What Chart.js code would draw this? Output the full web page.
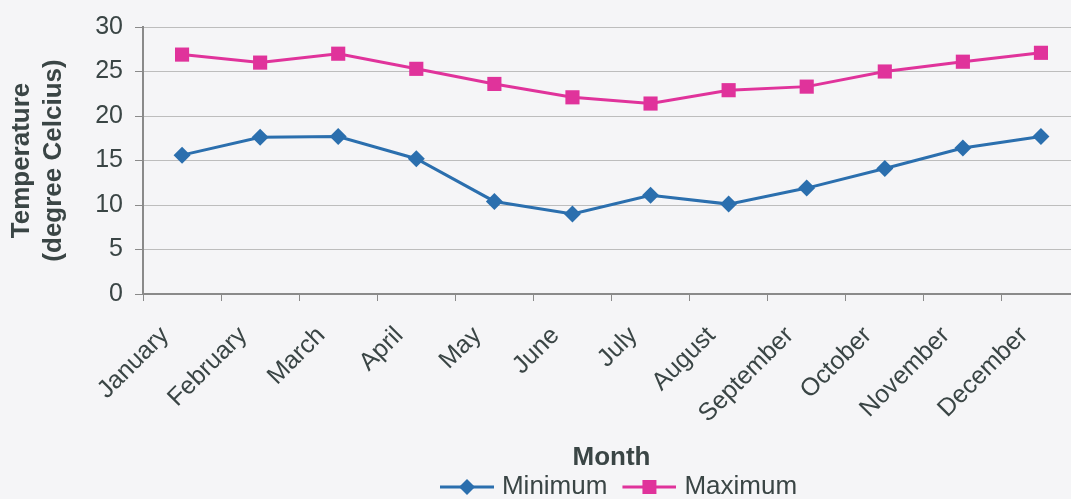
<!DOCTYPE html>
<html>
<head>
<meta charset="utf-8">
<script src="https://cdn.jsdelivr.net/npm/chart.js@4"></script>
<style>
  html, body { margin: 0; padding: 0; background: #f5f5f7; overflow: hidden; }
  #wrap { position: relative; width: 1090px; height: 499px; }
</style>
</head>
<body>
<div id="wrap"><canvas id="c"></canvas></div>
<script>
const months = ['January','February','March','April','May','June','July','August','September','October','November','December'];
const minimumTemps = [15.6, 17.6, 17.7, 15.2, 10.4, 9.0, 11.1, 10.1, 11.9, 14.1, 16.4, 17.7];
const maximumTemps = [26.9, 26.0, 27.0, 25.3, 23.6, 22.1, 21.4, 22.9, 23.3, 25.0, 26.1, 27.1];
const yMin = 0, yMax = 30, yStep = 5;

const BLUE = '#2b6fae';
const PINK = '#e0339b';
const TEXT = '#3a4545';
const FONT = "'Liberation Sans', Arial, sans-serif";

function legendSymbol(color, shape) {
  const W = 73, H = 24, off = 19, len = 54;
  const cv = document.createElement('canvas');
  cv.width = W; cv.height = H;
  const g = cv.getContext('2d');
  const cy = H / 2, cx = off + len / 2;
  g.strokeStyle = color; g.lineWidth = 3;
  g.beginPath(); g.moveTo(off, cy); g.lineTo(off + len, cy); g.stroke();
  g.fillStyle = color;
  g.beginPath();
  if (shape === 'diamond') {
    const r = 8;
    g.moveTo(cx, cy - r); g.lineTo(cx + r, cy); g.lineTo(cx, cy + r); g.lineTo(cx - r, cy); g.closePath();
  } else {
    const s = 7;
    g.rect(cx - s, cy - s, 2 * s, 2 * s);
  }
  g.fill();
  return cv;
}
const symbols = [legendSymbol(BLUE, 'diamond'), legendSymbol(PINK, 'square')];

new Chart(document.getElementById('c'), {
  type: 'line',
  data: {
    labels: months,
    datasets: [
      { label: 'Minimum', data: minimumTemps, borderColor: BLUE, backgroundColor: BLUE,
        borderWidth: 3, pointStyle: 'rectRot', pointRadius: 8.5, pointHoverRadius: 8.5, pointBorderWidth: 0, tension: 0 },
      { label: 'Maximum', data: maximumTemps, borderColor: PINK, backgroundColor: PINK,
        borderWidth: 3, pointStyle: 'rect', pointRadius: 10, pointHoverRadius: 10, pointBorderWidth: 0, tension: 0 }
    ]
  },
  options: {
    responsive: true,
    maintainAspectRatio: false,
    animation: false,
    layout: { padding: { top: 24, right: 7, left: 0, bottom: 0 } },
    plugins: {
      tooltip: { enabled: false },
      legend: {
        position: 'bottom',
        fullSize: false,
        maxHeight: 26,
        labels: {
          usePointStyle: true,
          pointStyleWidth: 63,
          padding: 1,
          color: TEXT,
          font: { family: FONT, size: 26 },
          generateLabels: (chart) => chart.data.datasets.map((ds, i) => ({
            text: ds.label, pointStyle: symbols[i], fillStyle: ds.borderColor,
            strokeStyle: ds.borderColor, lineWidth: 0, fontColor: TEXT, hidden: false, datasetIndex: i
          }))
        }
      }
    },
    scales: {
      x: {
        offset: true,
        afterFit: (s) => { s.height = 179; },
        grid: { offset: true, drawOnChartArea: false, drawTicks: true, tickLength: 7, color: '#8a8a8a', lineWidth: 1 },
        border: { color: '#8a8a8a', width: 2 },
        ticks: { autoSkip: false, minRotation: 45, maxRotation: 45, color: TEXT, padding: 20, labelOffset: -17,
                 font: { family: FONT, size: 25 } },
        title: { display: true, text: 'Month', color: TEXT, padding: { top: 0, bottom: 0 },
                 font: { family: FONT, size: 26, weight: 'bold', lineHeight: 1.2 } }
      },
      y: {
        min: yMin, max: yMax,
        afterFit: (s) => { s.width = 143; },
        grid: { color: '#bdbdbd', lineWidth: 1, drawTicks: true, tickLength: 8, tickColor: '#8a8a8a' },
        border: { color: '#8a8a8a', width: 2 },
        ticks: { stepSize: yStep, color: TEXT, padding: 12, font: { family: FONT, size: 25 } },
        title: { display: true, text: ['Temperature', '(degree Celcius)'], color: TEXT,
                 padding: { top: 6, bottom: 0 },
                 font: { family: FONT, size: 26, weight: 'bold', lineHeight: 1.23 } }
      }
    }
  }
});
</script>
</body>
</html>
